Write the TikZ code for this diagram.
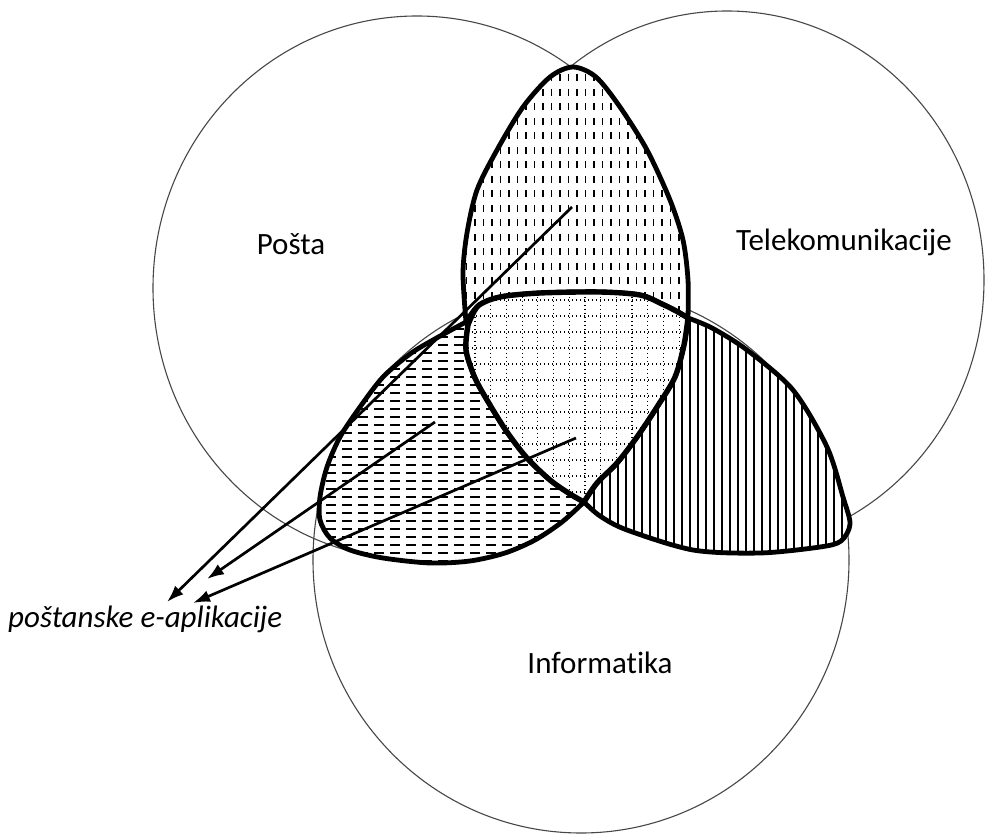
\documentclass[tikz,border=0pt]{standalone}
\usepackage{fontspec}
\setmainfont{Carlito}[Ligatures={NoCommon}]
\usetikzlibrary{arrows.meta}

\newcommand\topLensPath{plot[smooth] coordinates {(466,322) (463,273) (467,233) (477,190) (497,150) (523,107) (550,77) (573,67) (596,77) (620,107) (647,150) (670,200) (683,240) (688,280) (688,318)} -- plot[smooth] coordinates {(688,318) (678,312) (662,304) (640,295) (600,292) (540,293) (500,297) (478,306) (466,322)} -- cycle}
\newcommand\centralPath{plot[smooth] coordinates {(468,325) (478,306) (500,297) (540,293) (600,292) (640,295) (662,304) (678,312) (688,318)} -- plot[smooth] coordinates {(688,318) (684,345) (675,377) (657,407) (637,437) (617,463) (597,483) (584,502)} -- plot[smooth] coordinates {(584,502) (570,494) (550,480) (527,458) (507,432) (490,405) (475,378) (466,350) (468,325)} -- cycle}
\newcommand\leftLensPath{plot[smooth] coordinates {(466,322) (433,340) (410,354) (383,377) (360,407) (340,437) (327,467) (320,497) (320,520) (330,538) (350,550) (383,558) (430,563) (470,561) (505,553) (535,540) (562,522) (584,502)} -- plot[smooth] coordinates {(584,502) (570,494) (550,480) (527,458) (507,432) (490,405) (475,378) (466,350) (468,325)} -- cycle}
\newcommand\rightLensPath{plot[smooth] coordinates {(688,318) (712,328) (747,350) (793,390) (827,447) (843,497) (850,524) (841,541) (820,547) (760,553) (693,550) (627,530) (600,516) (584,502)} -- plot[smooth] coordinates {(584,502) (597,483) (617,463) (637,437) (657,407) (675,377) (684,345) (688,318)} -- cycle}

\begin{document}
\begin{tikzpicture}[x=1pt,y=-1pt,
  circ/.style={line width=1.1pt, draw=black!72},
  outl/.style={line width=4.8pt, line join=round, draw=black},
  vdash/.style={line width=1.4pt, dash pattern=on 7pt off 7.5pt},
  griddot/.style={line width=1.2pt, dash pattern=on 1.4pt off 2.6pt},
  hdash/.style={line width=1.7pt, dash pattern=on 10pt off 6pt},
  vline/.style={line width=1.4pt},
  arr/.style={-{Latex[length=17pt,width=12pt]}, line width=2.7pt},
  lbl/.style={inner sep=0pt, font=\fontsize{31}{35}\selectfont}
]
\useasboundingbox (0,0) rectangle (986,834);
\fill[white] (0,0) rectangle (986,834);

% circles
\draw[circ] (417,288) ellipse[x radius=264pt, y radius=272pt];
\draw[circ] (727,280) ellipse[x radius=257pt, y radius=269pt];
\draw[circ] (581,560) ellipse[x radius=268pt, y radius=273pt];

% top lens (Posta & Telekomunikacije)
\fill[white] \topLensPath;
\begin{scope}
  \clip \topLensPath;
  \foreach \x in {458,466.5,...,700} \draw[vdash] (\x,60) -- (\x,330);
\end{scope}
\draw[outl] \topLensPath;

% right lens (Telekomunikacije & Informatika)
\fill[white] \rightLensPath;
\begin{scope}
  \clip \rightLensPath;
  \foreach \x in {578,586,...,860} \draw[vline] (\x,300) -- (\x,560);
\end{scope}
\draw[outl] \rightLensPath;

% left lens (Posta & Informatika)
\fill[white] \leftLensPath;
\begin{scope}
  \clip \leftLensPath;
  \foreach \y in {321,329,...,570} \draw[hdash] (310,\y) -- (600,\y);
\end{scope}
\draw[outl] \leftLensPath;

% central region
\fill[white] \centralPath;
\begin{scope}
  \clip \centralPath;
  \foreach \x in {475,490.7,...,700} \draw[griddot] (\x,285) -- (\x,510);
  \foreach \y in {300,316,...,510} \draw[griddot] (460,\y) -- (700,\y);
\end{scope}
\draw[outl, line width=5.4pt] \centralPath;

% labels
\node[lbl, anchor=base] (posta) at (291,255) {Pošta};
\node[lbl, anchor=base east] (tele) at (952,251) {Telekomunikacije};
\node[lbl, anchor=base] (info) at (600,673) {Informatika};
\node[lbl, anchor=base west, font=\fontsize{31}{35}\selectfont\itshape] (app) at (8,627) {poštanske e-aplikacije};

% arrows
\coordinate (s1) at (572,207);
\coordinate (t1) at (167,602);
\coordinate (s2) at (435,422);
\coordinate (t2) at (207,579);
\coordinate (s3) at (576,438);
\coordinate (t3) at (193,603);
\draw[arr] (s1) -- (t1);
\draw[arr] (s2) -- (t2);
\draw[arr] (s3) -- (t3);
\end{tikzpicture}
\end{document}
